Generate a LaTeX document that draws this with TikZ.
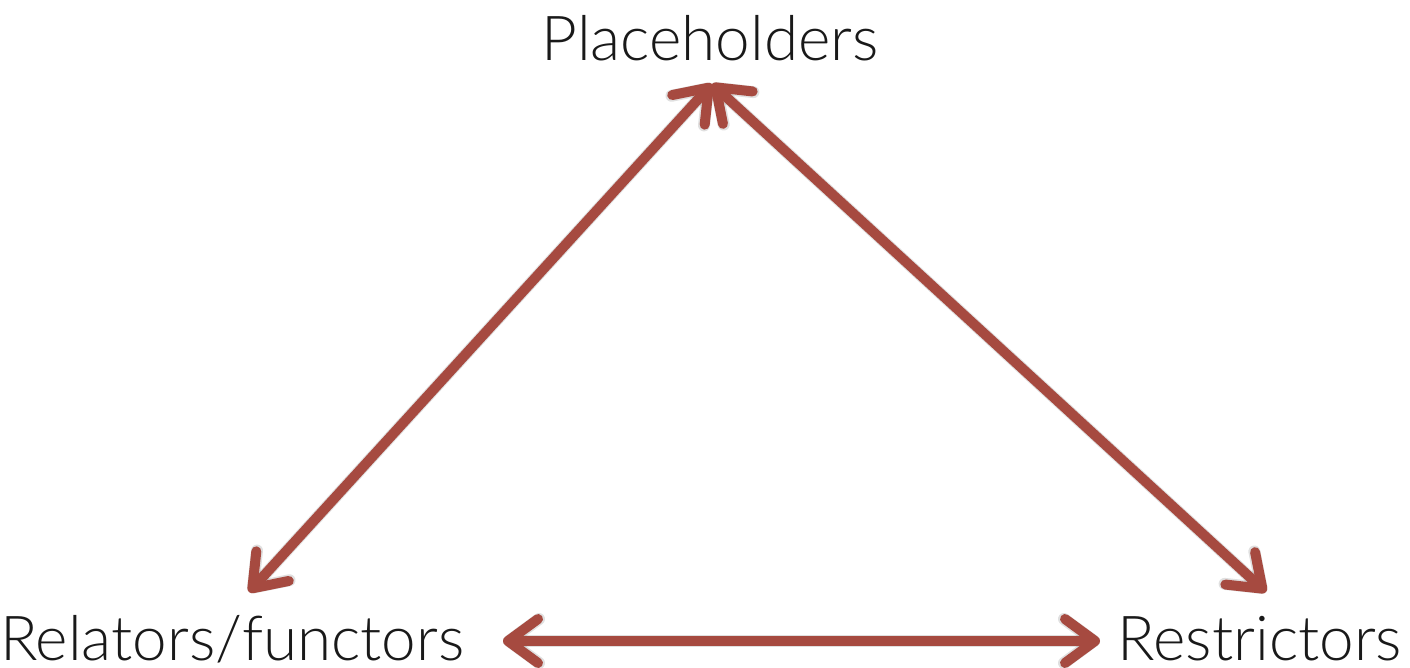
\documentclass[tikz,border=0pt]{standalone}
\usepackage{fontspec}
\setmainfont{Lato}[UprightFont=* Light]
\usetikzlibrary{arrows.meta}
\definecolor{arrowred}{HTML}{A64A40}
\begin{document}
\begin{tikzpicture}[x=1pt,y=-1pt,
  label/.style={inner sep=0pt,font=\fontsize{62}{62}\selectfont,text=black!90},
  link/.style={draw=arrowred,line width=10pt,
    {Straight Barb[length=30pt,width=44pt,round]}-{Straight Barb[length=30pt,width=44pt,round]}},
  linkshadow/.style={draw=black,opacity=0.12,line width=12pt,
    {Straight Barb[length=30pt,width=44pt,round]}-{Straight Barb[length=30pt,width=44pt,round]}}]
\useasboundingbox (0,0) rectangle (1410,668);
\node[label,anchor=base] (ph) at (710,61) {Placeholders};
\node[label,anchor=base west] (rf) at (0,660) {Relators/functors};
\node[label,anchor=base east] (rs) at (1402,660) {Restrictors};
\coordinate (ptip) at (712,84);
\coordinate (ltip) at (249,592);
\coordinate (rtip) at (1266,592);
\coordinate (bl) at (503,641);
\coordinate (br) at (1100,641);
\begin{scope}[shift={(2,3)}]
\draw[linkshadow] (ptip) -- (ltip);
\draw[linkshadow] (ptip) -- (rtip);
\draw[linkshadow] (bl) -- (br);
\end{scope}
\draw[link] (ptip) -- (ltip);
\draw[link] (ptip) -- (rtip);
\draw[link] (bl) -- (br);
\end{tikzpicture}
\end{document}
